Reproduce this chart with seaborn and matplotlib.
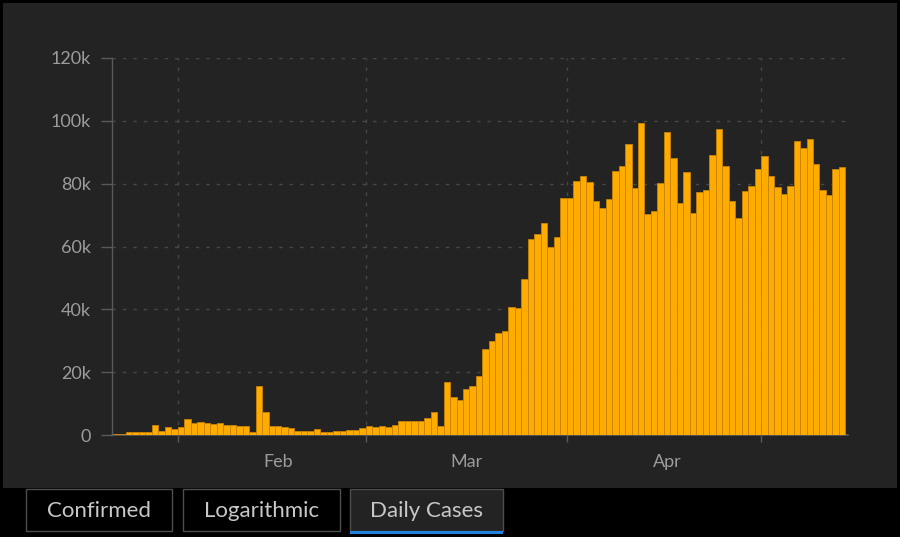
import numpy as np
import pandas as pd
import matplotlib
matplotlib.use('Agg')
import matplotlib.pyplot as plt
from matplotlib.patches import Rectangle
from matplotlib.ticker import FuncFormatter
import seaborn as sns

# Daily new cases (thousands), one value per day from Jan 22
start_date = '2020-01-22'
jan = [0.4, 0.4, 1.0, 1.0, 1.0, 1.1, 3.3, 1.2, 2.4, 2.0]
feb = [2.4, 5.0, 3.8, 4.1, 3.9, 3.4, 3.7, 3.1, 3.3, 3.0, 3.0, 0.9, 15.5, 7.2, 3.0,
       3.0, 2.7, 2.1, 1.2, 1.2, 1.2, 2.0, 0.9, 0.9, 1.4, 1.4, 1.5, 1.6, 2.1]
mar = [3.0, 2.4, 2.9, 2.7, 3.1, 4.3, 4.3, 4.3, 4.3, 5.3, 7.4, 2.8, 17.0, 12.0, 11.2,
       14.6, 15.6, 18.8, 27.5, 30.0, 32.6, 33.1, 40.6, 40.4, 49.6, 62.3, 64.1, 67.6,
       59.7, 62.9, 75.4]
apr = [75.4, 80.7, 82.5, 80.4, 74.5, 72.4, 75.1, 84.1, 85.7, 92.6, 78.7, 99.2, 70.5,
       71.2, 80.1, 96.3, 88.1, 74.0, 83.6, 70.8, 77.5, 77.9, 89.2, 97.4, 85.7, 74.5,
       69.2, 77.7, 79.3, 84.6]
may = [88.9, 82.5, 79.0, 76.7, 79.3, 93.7, 91.5, 94.2, 86.2, 77.9, 76.5, 84.6, 85.4]

y_ticks = [0, 20000, 40000, 60000, 80000, 100000, 120000]
tabs = ['Confirmed', 'Logarithmic', 'Daily Cases']

daily = [v * 1000 for v in jan + feb + mar + apr + may]
dates = pd.date_range(start_date, periods=len(daily))
df = pd.DataFrame({'Day': np.arange(len(daily)), 'Cases': daily})

sns.set_style('dark')
plt.rcParams['font.family'] = ['Lato', 'DejaVu Sans']

W, H = 900, 537
fig = plt.figure(figsize=(W / 100, H / 100), dpi=100)
fig.patch.set_facecolor('black')


def fx(x):
    return x / W


def fy(y):
    return 1 - y / H


# dark chart panel (behind the axes)
fig.patches.append(Rectangle((fx(3), fy(488)), fx(894), (488 - 3) / H,
                             transform=fig.transFigure, facecolor='#232323',
                             edgecolor='none', zorder=-5))

ax = fig.add_axes([fx(112), fy(435), fx(848 - 112), (435 - 58) / H])
ax.set_facecolor('none')
ax.set_zorder(2)

sns.barplot(data=df, x='Day', y='Cases', color='#ffab00', width=1.0,
            edgecolor='#c98300', linewidth=0.6, saturation=1, ax=ax, zorder=3)

month_starts = [i - 0.5 for i, d in enumerate(dates) if d.day == 1]
mid_month = [i for i, d in enumerate(dates) if d.day == 16]
mid_labels = [dates[i].strftime('%b') for i in mid_month]

ax.set_xlim(-0.65, len(daily) - 0.1)
ax.set_ylim(0, 120000)

# gridlines
for y in y_ticks[1:]:
    ax.axhline(y, color='#474747', lw=1, ls=(0, (2.5, 5)), zorder=1)
for x in month_starts:
    ax.axvline(x, color='#474747', lw=1, ls=(0, (2.5, 5)), zorder=1)

ax.set_xticks(month_starts)
ax.set_xticklabels([])
ax.set_xticks(mid_month, minor=True)
ax.set_xticklabels(mid_labels, minor=True)
ax.tick_params(axis='x', which='major', length=5, width=1, color='#5a5a5a',
               bottom=True)
ax.tick_params(axis='x', which='minor', length=0, pad=14, labelsize=13,
               labelcolor='#9c9c9c')

ax.set_yticks(y_ticks)
ax.yaxis.set_major_formatter(FuncFormatter(
    lambda v, p: '0' if v == 0 else f'{int(v / 1000)}k'))
ax.tick_params(axis='y', length=8, width=1, color='#5a5a5a', left=True,
               labelsize=13, labelcolor='#9c9c9c', pad=7)

ax.set_xlabel('')
ax.set_ylabel('')
ax.grid(False)
for side in ['top', 'right']:
    ax.spines[side].set_visible(False)
ax.spines['left'].set_color('#5a5a5a')
ax.spines['bottom'].set_color('#5a5a5a')
ax.spines['left'].set_linewidth(1)
ax.spines['bottom'].set_linewidth(1.2)

# tab bar below the chart
tab_boxes = [(26, 172), (183, 340), (350, 503)]
for i, (name, (x0, x1)) in enumerate(zip(tabs, tab_boxes)):
    active = i == len(tabs) - 1
    fig.patches.append(Rectangle((fx(x0), fy(531)), fx(x1 - x0), (531 - 489) / H,
                                 transform=fig.transFigure,
                                 facecolor='#232323' if active else 'black',
                                 edgecolor='#4d4d4d', lw=1, zorder=1))
    if active:
        fig.patches.append(Rectangle((fx(x0), fy(534)), fx(x1 - x0), 3.5 / H,
                                     transform=fig.transFigure,
                                     facecolor='#2183dd', edgecolor='none',
                                     zorder=2))
    fig.text(fx((x0 + x1) / 2), fy(511), name, ha='center', va='center',
             fontsize=16, color='#c8c8c8')

fig.savefig('out.png', dpi=100, facecolor=fig.get_facecolor())
